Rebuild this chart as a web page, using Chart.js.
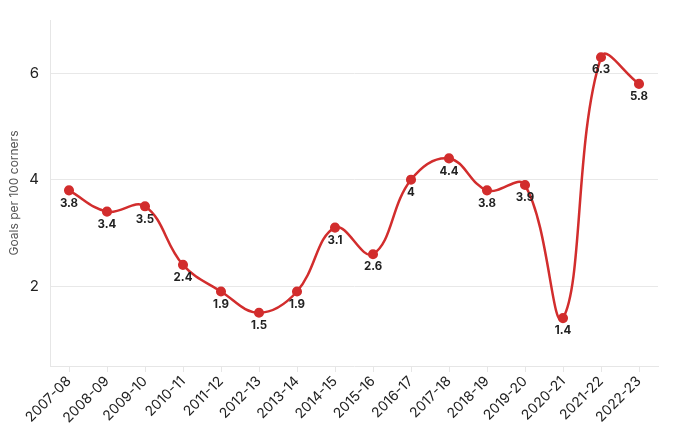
<!DOCTYPE html>
<html><head><meta charset="utf-8">
<script src="https://cdn.jsdelivr.net/npm/chart.js@4"></script>
<style>html,body{margin:0;padding:0;background:#fff}#wrap{width:680px;height:436px}</style>
</head><body><div id="wrap"><canvas id="c" width="680" height="436"></canvas></div>
<script>
const seasons = ["2007-08","2008-09","2009-10","2010-11","2011-12","2012-13","2013-14","2014-15","2015-16","2016-17","2017-18","2018-19","2019-20","2020-21","2021-22","2022-23"];
const goalsPer100 = [3.8,3.4,3.5,2.4,1.9,1.5,1.9,3.1,2.6,4,4.4,3.8,3.9,1.4,6.3,5.8];
const yTicks = [2,4,6];
const FONT = 'Inter, "Liberation Sans", sans-serif';

const labelPlugin = {
  id:'lbl',
  afterDatasetsDraw(chart){
    const ctx = chart.ctx;
    const meta = chart.getDatasetMeta(0);
    ctx.save();
    ctx.font = 'bold 11.5px ' + FONT;
    ctx.fillStyle = '#222';
    ctx.textAlign = 'center';
    ctx.textBaseline = 'top';
    meta.data.forEach((p,i)=>{
      ctx.fillText(String(goalsPer100[i]), p.x, p.y + 7);
    });
    ctx.restore();
  }
};

new Chart(document.getElementById('c'), {
  type:'line',
  data:{labels:seasons, datasets:[{
    data:goalsPer100,
    borderColor:'#d22d2d', backgroundColor:'#d22d2d',
    borderWidth:2.5, pointRadius:3.8, pointHoverRadius:3.8,
    tension:0.4
  }]},
  options:{
    responsive:false, animation:false,
    layout:{padding:{top:18,right:22,left:7,bottom:0}},
    plugins:{legend:{display:false}, tooltip:{enabled:false}},
    scales:{
      x:{offset:true,
        afterFit(s){ s.height = 70; },
        grid:{display:true, drawOnChartArea:false, drawTicks:true, tickLength:6, color:'#e6e6e6'},
        border:{display:true,color:'#e6e6e6',width:1},
        ticks:{color:'#222', font:{family:FONT, size:14}, maxRotation:45, minRotation:45, padding:1}
      },
      y:{min:0.5,max:7,
        afterFit(s){ s.width = 43; },
        afterBuildTicks(s){ s.ticks = yTicks.map(v=>({value:v})); },
        grid:{color:'#e8e8e8', drawTicks:false, lineWidth:1},
        border:{display:true,color:'#e6e6e6',width:1},
        ticks:{color:'#222', font:{family:FONT, size:15}, padding:11},
        title:{display:true, text:'Goals per 100 corners', color:'#555', font:{family:FONT, size:12}, padding:{top:0,bottom:6}}
      }
    }
  },
  plugins:[labelPlugin]
});
</script></body></html>
